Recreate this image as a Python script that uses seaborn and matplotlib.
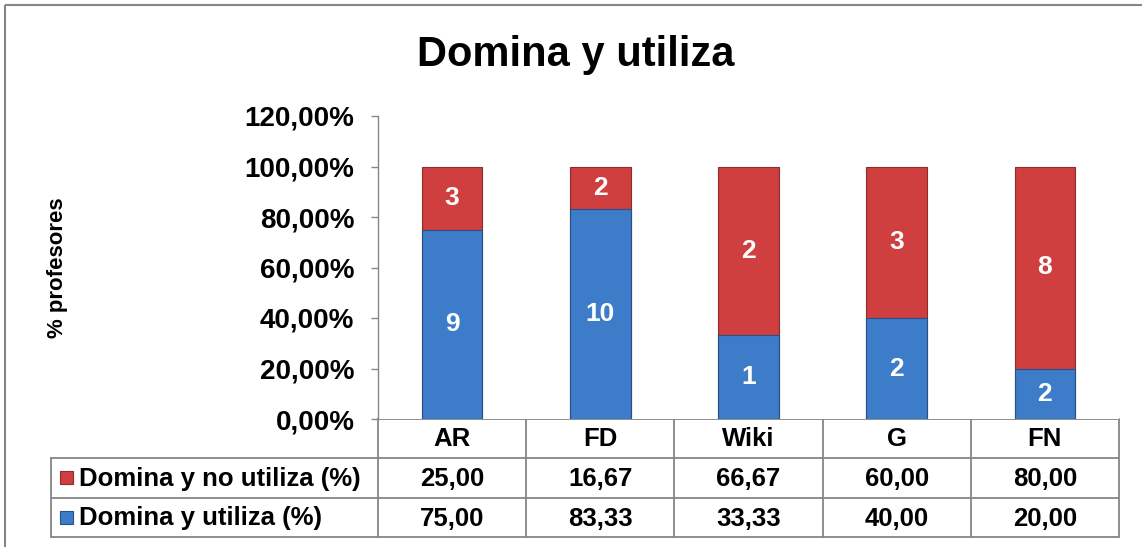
import numpy as np
import pandas as pd
import matplotlib.pyplot as plt
import seaborn as sns
from matplotlib.patches import Rectangle

# data
categories = ["AR", "FD", "Wiki", "G", "FN"]
used_pct = [75.00, 83.33, 33.33, 40.00, 20.00]
not_used_pct = [25.00, 16.67, 66.67, 60.00, 80.00]
used_n = [9, 10, 1, 2, 2]
not_used_n = [3, 2, 2, 3, 8]
row_labels = ["Domina y no utiliza (%)", "Domina y utiliza (%)"]

blue = "#3d7cc9"
red = "#cf3f3f"
grey = "#868686"

sns.set_theme(style="white")
plt.rcParams["font.family"] = ["Liberation Sans", "DejaVu Sans"]
plt.rcParams["font.weight"] = "bold"
plt.rcParams["text.color"] = "black"
plt.rcParams["ytick.color"] = "black"

W, H = 1142, 547
fig = plt.figure(figsize=(W / 100, H / 100), dpi=100)

# plot area in pixels
ax_l, ax_r, ax_t, ax_b = 378, 1119, 116, 419
ax = fig.add_axes([ax_l / W, 1 - ax_b / H, (ax_r - ax_l) / W, (ax_b - ax_t) / H])

df = pd.DataFrame({"cat": categories, "used": used_pct, "not_used": not_used_pct})
df["total"] = df["used"] + df["not_used"]

sns.barplot(data=df, x="cat", y="total", color=red, saturation=1, width=0.41,
            errorbar=None, edgecolor="#8e2b2b", linewidth=0.8, ax=ax)
sns.barplot(data=df, x="cat", y="used", color=blue, saturation=1, width=0.41,
            errorbar=None, edgecolor="#25508a", linewidth=0.8, ax=ax)

for i in range(len(categories)):
    ax.text(i, used_pct[i] / 2, str(used_n[i]), ha="center", va="center",
            color="white", fontsize=19, fontweight="bold")
    ax.text(i, used_pct[i] + not_used_pct[i] / 2, str(not_used_n[i]), ha="center",
            va="center", color="white", fontsize=19, fontweight="bold")

ax.set_xlim(-0.5, len(categories) - 0.5)
ax.set_ylim(0, 120)
yt = np.arange(0, 121, 20)
ax.set_yticks(yt)
ax.set_yticklabels([f"{v:.2f}%".replace(".", ",") for v in yt], fontsize=20,
                   fontweight="bold", color="black")
ax.tick_params(axis="y", left=True, length=5, width=1, color=grey, pad=12)
ax.set_xticks([])
ax.set_xlabel("")
ax.set_ylabel("")
for s in ["top", "right", "bottom"]:
    ax.spines[s].set_visible(False)
ax.spines["left"].set_color(grey)
ax.spines["left"].set_linewidth(1)

# overlay in pixel coordinates for title, frame and data table
ov = fig.add_axes([0, 0, 1, 1], zorder=-1)
ov.set_xlim(0, W)
ov.set_ylim(H, 0)
ov.axis("off")

ov.add_patch(Rectangle((5, 4.5), W + 20, H + 20, fill=False, edgecolor=grey, linewidth=1.5))
ov.text(576, 55, "Domina y utiliza", ha="center", va="center", fontsize=30,
        fontweight="bold", color="black")
ov.text(58, 268, "% profesores", ha="center", va="center", rotation=90, fontsize=16,
        fontweight="bold", color="black")

rows_y = [419, 458, 498, 537]
tab_l = 51
col_w = (ax_r - ax_l) / len(categories)
col_x = [ax_l + i * col_w for i in range(len(categories) + 1)]
lw = 1.3

# horizontal lines
ov.plot([ax_l, ax_r], [rows_y[0], rows_y[0]], color=grey, lw=lw)
for y in rows_y[1:]:
    ov.plot([tab_l, ax_r], [y, y], color=grey, lw=lw)
# vertical lines
for x in col_x:
    ov.plot([x, x], [rows_y[0], rows_y[-1]], color=grey, lw=lw)
ov.plot([tab_l, tab_l], [rows_y[1], rows_y[-1]], color=grey, lw=lw)

for i, c in enumerate(categories):
    cx = ax_l + (i + 0.5) * col_w
    ov.text(cx, (rows_y[0] + rows_y[1]) / 2 + 1, c, ha="center", va="center",
            fontsize=18.5, fontweight="bold", color="black")
    ov.text(cx, (rows_y[1] + rows_y[2]) / 2 + 1, f"{not_used_pct[i]:.2f}".replace(".", ","),
            ha="center", va="center", fontsize=18.5, fontweight="bold", color="black")
    ov.text(cx, (rows_y[2] + rows_y[3]) / 2 + 1, f"{used_pct[i]:.2f}".replace(".", ","),
            ha="center", va="center", fontsize=18.5, fontweight="bold", color="black")

for j, (lab, col, ec) in enumerate(zip(row_labels, [red, blue], ["#8e2b2b", "#25508a"])):
    cy = (rows_y[j + 1] + rows_y[j + 2]) / 2
    ov.add_patch(Rectangle((60, cy - 7), 13, 13, facecolor=col, edgecolor=ec, linewidth=0.8))
    ov.text(79, cy + 1, lab, ha="left", va="center", fontsize=18.5, fontweight="bold",
            color="black")

fig.savefig("out.png", dpi=100)
